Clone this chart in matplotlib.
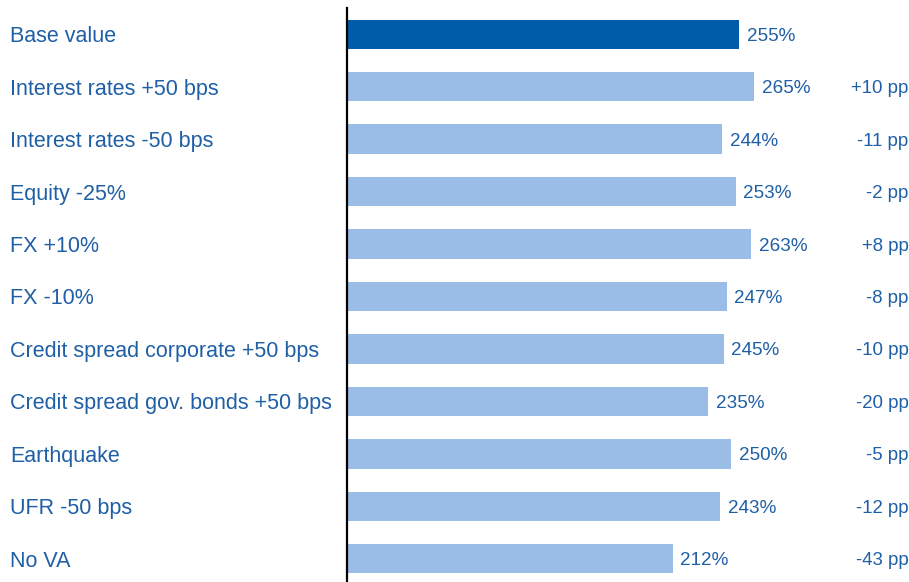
import matplotlib
matplotlib.use("Agg")
import matplotlib.pyplot as plt

categories = ["Base value", "Interest rates +50 bps", "Interest rates -50 bps", "Equity -25%",
              "FX +10%", "FX -10%", "Credit spread corporate +50 bps",
              "Credit spread gov. bonds +50 bps", "Earthquake", "UFR -50 bps", "No VA"]
values = [255, 265, 244, 253, 263, 247, 245, 235, 250, 243, 212]
deltas = ["", "+10 pp", "-11 pp", "-2 pp", "+8 pp", "-8 pp", "-10 pp", "-20 pp", "-5 pp", "-12 pp", "-43 pp"]

plt.rcParams['font.family'] = ['Liberation Sans', 'DejaVu Sans']
W, H = 909, 582
fig = plt.figure(figsize=(W/100, H/100), dpi=100)
ax_left = 347 / W
ax = fig.add_axes([ax_left, -3 / H, 1 - ax_left, 577 / H])
px_per_unit = 1.537
ax.set_xlim(0, (W - 347) / px_per_unit)
ax.set_ylim(len(categories) - 0.5, -0.5)

dark = "#005CA9"
light = "#99BDE6"
txt = "#1F5FA6"
colors = [dark] + [light] * (len(values) - 1)
ys = list(range(len(categories)))
ax.barh(ys, values, height=0.56, color=colors, zorder=2)

blend = matplotlib.transforms.blended_transform_factory(fig.transFigure, ax.transData)
for y, v, d, c in zip(ys, values, deltas, categories):
    ax.annotate(f"{v}%", (v, y), xytext=(5.5, 0), textcoords="offset points",
                va="center_baseline", ha="left", fontsize=13.6, color=txt)
    if d:
        ax.text(0.999, y, d, transform=ax.get_yaxis_transform(), va="center_baseline", ha="right",
                fontsize=13.4, color=txt)
    ax.text(10 / W, y, c, transform=blend,
            va="center_baseline", ha="left", fontsize=15.5, color=txt)

for s in ["top", "right", "bottom"]:
    ax.spines[s].set_visible(False)
ax.spines["left"].set_linewidth(1.6)
ax.spines["left"].set_color("black")
ax.set_xticks([])
ax.set_yticks([])
fig.savefig("out.png", dpi=100)
